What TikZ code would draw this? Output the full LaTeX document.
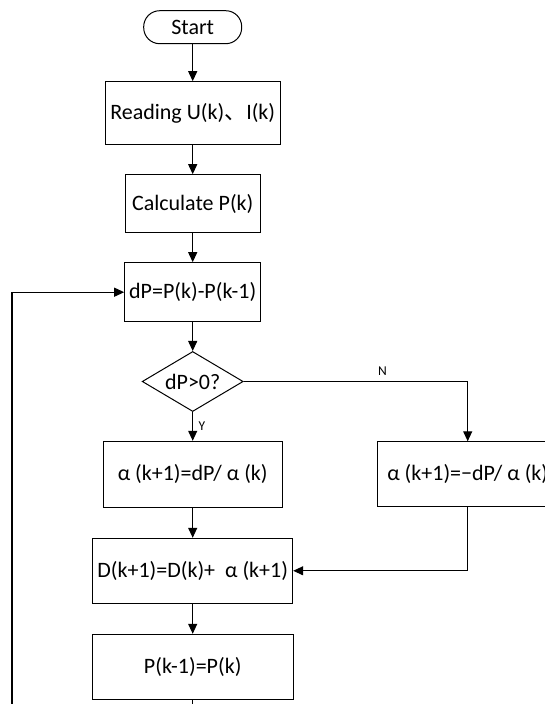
\documentclass[tikz,border=0pt]{standalone}
\usepackage{fontspec}
\setmainfont{Carlito}
\newfontfamily\cjk{Noto Sans CJK SC}
\usetikzlibrary{matrix,shapes.geometric,arrows.meta}

\begin{document}
\begin{tikzpicture}[x=1pt,y=1pt,>={Triangle[length=10pt,width=9pt]},
  every node/.style={font=\fontsize{22}{26}\selectfont},
  term/.style={draw,line width=1pt,rounded corners=16pt,minimum width=98pt,minimum height=33pt,inner sep=0pt},
  proc/.style 2 args={draw,line width=1pt,minimum width=#1,minimum height=#2,inner sep=0pt},
  test/.style={draw,line width=1pt,diamond,aspect=1.68,minimum width=101pt,minimum height=60pt,inner sep=0pt},
  yn/.style={font=\fontsize{13.5}{15}\selectfont}]
  \useasboundingbox (0,0) rectangle (544,-704);
  \matrix (m) [matrix of nodes,row sep=29pt,column sep=83.5pt,anchor=north west,inner sep=0pt,nodes={anchor=center}] at (91.5,-10)
  { |[term]| Start & \\[8pt]
    |[proc={175pt}{63pt}]| Reading U(k){\cjk 、}I(k) & \\
    |[proc={135pt}{58pt}]| Calculate P(k) & \\
    |[proc={136pt}{59pt}]| dP=P(k)-P(k-1) & \\
    |[test]| dP>0? & \\
    |[proc={179pt}{66pt}]| α (k+1)=dP/ α (k) & |[proc={180pt}{65pt}]| α (k+1)=−dP/ α (k) \\[1pt]
    |[proc={200pt}{65pt}]| D(k+1)=D(k)+ \ α (k+1) & \\[1pt]
    |[proc={201pt}{65pt}]| P(k-1)=P(k) & \\};
  \path[->,line width=1.1pt]
    (m-1-1) edge (m-2-1)
    (m-2-1) edge (m-3-1)
    (m-3-1) edge (m-4-1)
    (m-4-1) edge (m-5-1)
    (m-5-1) edge node [yn,right,xshift=2pt] {Y} (m-6-1)
    (m-6-1) edge (m-7-1)
    (m-7-1) edge (m-8-1);
  \draw[->,line width=1.1pt] (m-5-1.east) -| node [yn,above,pos=0.31,yshift=2pt] {N} (m-6-2.north);
  \draw[->,line width=1.1pt] (m-6-2.south) |- (m-7-1.east);
  % loop back to dP
  \coordinate (back) at (12,-720);
  \draw[->,line width=1.1pt] (m-8-1.south) |- (back) |- (m-4-1.west);
\end{tikzpicture}
\end{document}
